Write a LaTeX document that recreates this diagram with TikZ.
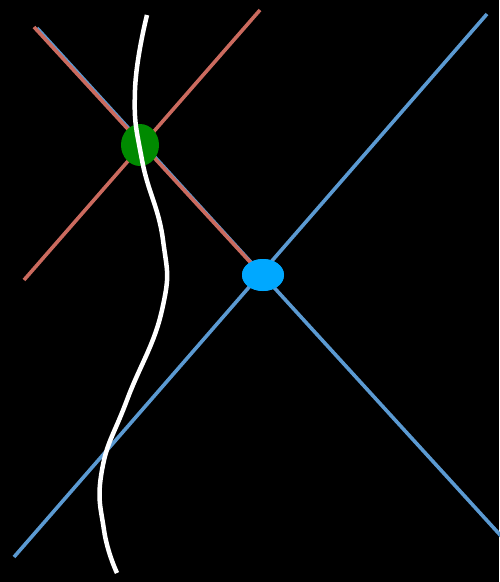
\documentclass[tikz,border=0pt]{standalone}
\usetikzlibrary{shapes.geometric}
\definecolor{lineblue}{HTML}{5B9AD2}
\definecolor{linered}{HTML}{CB6A5E}
\definecolor{dotgreen}{HTML}{008A00}
\definecolor{dotblue}{HTML}{00A8FF}

\begin{document}
\begin{tikzpicture}[
  x=1pt, y=-1pt,
  blueline/.style={draw=lineblue, line width=3.6pt},
  redline/.style={draw=linered, line width=3.6pt},
  wire/.style={draw=white, line width=4.5pt},
  dot/.style={ellipse, inner sep=0pt}
]
  \fill[black] (0,0) rectangle (499,582);
  \useasboundingbox (0,0) rectangle (499,582);

  % end points of the lines
  \coordinate (b1s) at (14,557);
  \coordinate (b1e) at (487,14);
  \coordinate (b2s) at (37,28);
  \coordinate (b2e) at (502,537);
  \coordinate (r1s) at (34,27);
  \coordinate (r2s) at (24,280);
  \coordinate (r2e) at (260,10);

  \node[dot, fill=dotblue, minimum width=42pt, minimum height=32pt] (meet) at (263,275) {};

  \draw[blueline] (b1s) -- (b1e);
  \draw[blueline] (b2s) -- (b2e);
  \draw[redline] (r1s) -- ([xshift=-1pt]meet.center);
  \draw[redline] (r2s) -- (r2e);

  \node[dot, fill=dotgreen, minimum width=38pt, minimum height=42pt] (cross) at (140,145) {};
  \node[dot, fill=dotblue, minimum width=42pt, minimum height=32pt] at (meet) {};

  % the curve
  \draw[wire] plot[smooth, tension=0.8] coordinates {
    (147,15) (135,90) (142,160) (163,240) (162,310)
    (127,400) (102,470) (104,530) (117,573)};
\end{tikzpicture}
\end{document}
